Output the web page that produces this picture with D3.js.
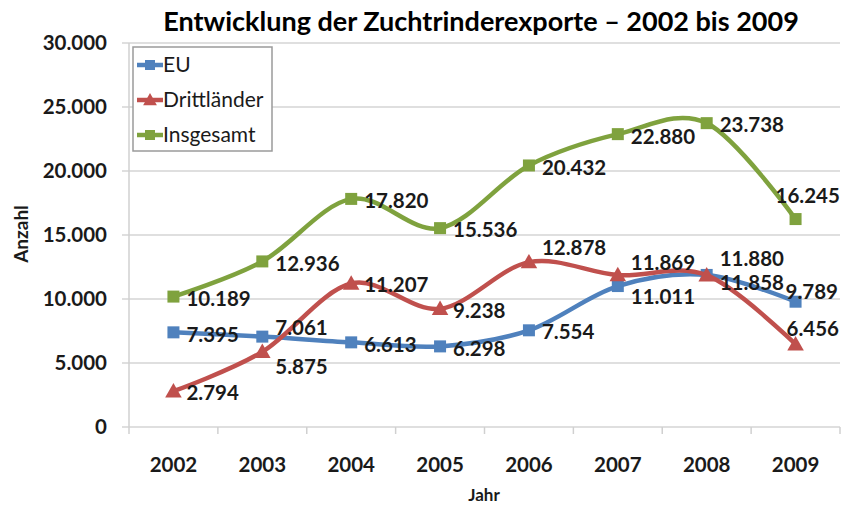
<!DOCTYPE html>
<html>
<head>
<meta charset="utf-8">
<script src="https://cdn.jsdelivr.net/npm/d3@7"></script>
<style>
  body { margin: 0; background: #fff; }
  svg { font-family: Lato, "Open Sans", sans-serif; }
</style>
</head>
<body>
<div id="chart"></div>
<script>
const years = ["2002", "2003", "2004", "2005", "2006", "2007", "2008", "2009"];
const eu = [7395, 7061, 6613, 6298, 7554, 11011, 11880, 9789];
const drittlaender = [2794, 5875, 11207, 9238, 12878, 11869, 11858, 6456];
const insgesamt = [10189, 12936, 17820, 15536, 20432, 22880, 23738, 16245];
const yTicks = [0, 5000, 10000, 15000, 20000, 25000, 30000];

// manual label nudges (like the hand-moved labels in the original)
const euNudge = [[0,0],[0,-11],[0,0],[0,0],[0,0],[0,9],[0,-18],[-23,-12]];
const drNudge = [[0,0],[0,13],[0,-1],[0,0],[0,-16],[0,-14],[0,6],[-22,-18]];
const inNudge = [[0,0],[0,0],[0,0],[0,0],[0,0],[0,1],[0,0],[-33,-25]];

const series = [
  { name: "EU", values: eu, color: "#4f81bd", marker: "square", nudge: euNudge },
  { name: "Drittländer", values: drittlaender, color: "#c0504d", marker: "triangle", nudge: drNudge },
  { name: "Insgesamt", values: insgesamt, color: "#7fa23e", marker: "square", nudge: inNudge }
];

const width = 850, height = 506;
const margin = { top: 43, right: 10, bottom: 79, left: 129 };

const svg = d3.select("#chart").append("svg")
  .attr("width", width)
  .attr("height", height);

const x = d3.scaleBand()
  .domain(years)
  .range([margin.left, width - margin.right]);

const y = d3.scaleLinear()
  .domain([0, 30000])
  .range([height - margin.bottom, margin.top]);

const fmt = d3.formatLocale({ decimal: ",", thousands: ".", grouping: [3], currency: ["", "€"] }).format(",d");

// gridlines
svg.append("g")
  .selectAll("line")
  .data(yTicks)
  .join("line")
  .attr("x1", margin.left - 7)
  .attr("x2", width - margin.right)
  .attr("y1", d => y(d))
  .attr("y2", d => y(d))
  .attr("stroke", "#d4d4d4")
  .attr("stroke-width", 1.5);

// y axis line
svg.append("line")
  .attr("x1", margin.left).attr("x2", margin.left)
  .attr("y1", margin.top).attr("y2", y(0) + 7)
  .attr("stroke", "#d0d0d0").attr("stroke-width", 1.5);

// x tick marks at band boundaries
const bounds = years.map(d => x(d)).concat([x(years[years.length - 1]) + x.bandwidth()]);
svg.append("g")
  .selectAll("line")
  .data(bounds.slice(1))
  .join("line")
  .attr("x1", d => d).attr("x2", d => d)
  .attr("y1", y(0)).attr("y2", y(0) + 7)
  .attr("stroke", "#d0d0d0").attr("stroke-width", 1.5);

// y tick labels
svg.append("g")
  .selectAll("text")
  .data(yTicks)
  .join("text")
  .attr("x", 107)
  .attr("y", d => y(d))
  .attr("dy", "0.35em")
  .attr("text-anchor", "end")
  .attr("font-size", 20.5)
  .attr("font-weight", "bold")
  .attr("fill", "#1a1a1a")
  .text(d => fmt(d));

// x tick labels
svg.append("g")
  .selectAll("text")
  .data(years)
  .join("text")
  .attr("x", d => x(d) + x.bandwidth() / 2)
  .attr("y", 465)
  .attr("dy", "0.35em")
  .attr("text-anchor", "middle")
  .attr("font-size", 20.5)
  .attr("font-weight", "bold")
  .attr("fill", "#1a1a1a")
  .text(d => d);

// axis titles
svg.append("text")
  .attr("x", 484).attr("y", 495)
  .attr("dy", "0.35em")
  .attr("text-anchor", "middle")
  .attr("font-size", 17).attr("font-weight", "bold").attr("fill", "#1a1a1a")
  .text("Jahr");

svg.append("text")
  .attr("transform", "translate(21,234) rotate(-90)")
  .attr("dy", "0.35em")
  .attr("text-anchor", "middle")
  .attr("font-size", 19).attr("font-weight", "bold").attr("fill", "#1a1a1a")
  .text("Anzahl");

// title
svg.append("text")
  .attr("x", 481).attr("y", 22)
  .attr("dy", "0.35em")
  .attr("text-anchor", "middle")
  .attr("font-size", 27).attr("font-weight", "bold").attr("fill", "#000")
  .text("Entwicklung der Zuchtrinderexporte – 2002 bis 2009");

const cx = (d, i) => x(years[i]) + x.bandwidth() / 2;

const line = d3.line()
  .x((d, i) => cx(d, i))
  .y(d => y(d))
  .curve(d3.curveCardinal.tension(0));

function drawMarker(g, type, color, size) {
  if (type === "square") {
    g.append("rect")
      .attr("x", -size / 2).attr("y", -size / 2)
      .attr("width", size).attr("height", size)
      .attr("fill", color);
  } else {
    const s = size * 1.15;
    g.append("path")
      .attr("d", `M0,${-s * 0.6}L${s * 0.6},${s * 0.45}L${-s * 0.6},${s * 0.45}Z`)
      .attr("fill", color);
  }
}

// lines + markers
series.forEach(s => {
  svg.append("path")
    .attr("d", line(s.values))
    .attr("fill", "none")
    .attr("stroke", s.color)
    .attr("stroke-width", 4.5)
    .attr("stroke-linejoin", "round");

  svg.append("g")
    .selectAll("g")
    .data(s.values)
    .join("g")
    .attr("transform", (d, i) => `translate(${cx(d, i)},${y(d)})`)
    .each(function () { drawMarker(d3.select(this), s.marker, s.color, 12); });
});

// data labels
series.forEach(s => {
  svg.append("g")
    .selectAll("text")
    .data(s.values)
    .join("text")
    .attr("x", (d, i) => cx(d, i) + 13 + s.nudge[i][0])
    .attr("y", (d, i) => y(d) + 2 + s.nudge[i][1])
    .attr("dy", "0.35em")
    .attr("font-size", 20.5)
    .attr("font-weight", "bold")
    .attr("fill", "#1a1a1a")
    .text(d => fmt(d));
});

// legend
const legend = svg.append("g").attr("transform", "translate(133,47)");
legend.append("rect")
  .attr("width", 139).attr("height", 104)
  .attr("fill", "#fff")
  .attr("stroke", "#9a9a9a").attr("stroke-width", 1.5);

series.forEach((s, i) => {
  const row = legend.append("g").attr("transform", `translate(0,${18 + i * 35})`);
  row.append("line")
    .attr("x1", 4).attr("x2", 30)
    .attr("stroke", s.color).attr("stroke-width", 4.5);
  const m = row.append("g").attr("transform", "translate(17,0)");
  drawMarker(m, s.marker, s.color, 10);
  row.append("text")
    .attr("x", 30).attr("dy", "0.35em")
    .attr("font-size", 21)
    .attr("fill", "#1a1a1a")
    .text(s.name);
});
</script>
</body>
</html>
